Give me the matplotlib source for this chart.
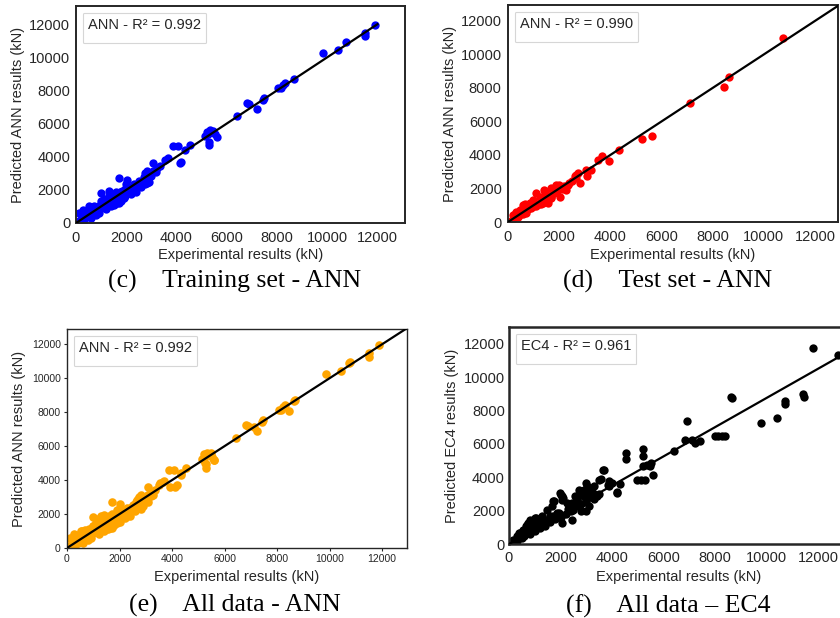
import matplotlib
matplotlib.use("Agg")
import matplotlib.pyplot as plt
from matplotlib.lines import Line2D

plt.rcParams['font.family'] = ['Liberation Sans', 'DejaVu Sans']

# ---- data (kN) ----
train_x = [11900, 11500, 11500, 10750, 10430, 9850, 8690, 8320, 8230, 8160, 8060,
           7470, 7440, 7220, 6890, 6820, 6420,
           5210, 5340, 5470, 5150, 5280, 5300, 5600, 5540, 5250, 5400,
           3870, 4070, 4530, 4200, 4130, 4330, 3540, 3670, 3080, 3350, 3220,
           2760, 2820, 2890, 3080, 2820, 2760, 1710, 2030, 980, 1310, 1970, 1640,
           520, 260, 130,
           100, 150, 200, 250, 300, 350, 400, 450, 500, 550, 600, 650, 700, 750,
           800, 850, 900, 950, 1000, 1050, 1100, 1150, 1200, 1250, 1300, 1350,
           1400, 1450, 1500, 1550, 1600, 1650, 1700, 1750, 1800, 1850, 1900, 1950,
           2000, 2100, 2200, 2300, 2400, 2500, 2600, 2700, 2800, 2900, 3000, 3100,
           3200, 1200, 1500, 1700, 1800, 2200, 2400, 900, 600, 1000, 500, 300,
           1300, 2600, 2750, 2900, 700, 1100, 1600, 2000, 1400, 800, 2300, 1900]
train_y = [11950, 11480, 11280, 10900, 10450, 10250, 8720, 8430, 8330, 8130, 8130,
           7530, 7430, 6890, 7170, 7270, 6460,
           5520, 5620, 5580, 5260, 4920, 4720, 5180, 5380, 5400, 5500,
           4620, 4620, 4700, 3710, 3610, 4420, 3810, 3910, 3610, 3420, 3310,
           3010, 3110, 2910, 3110, 2410, 2510, 2710, 2610, 1810, 1910, 1610, 1200,
           1000, 800, 600,
           120, 80, 260, 310, 200, 450, 350, 560, 420, 650, 480, 760, 600, 860,
           700, 960, 800, 1060, 880, 1160, 960, 1260, 1040, 1350, 1150, 1460,
           1250, 1560, 1340, 1660, 1440, 1760, 1540, 1850, 1620, 1950, 1760, 2060,
           1850, 2200, 2000, 2350, 2200, 2550, 2400, 2800, 2600, 3000, 2850, 3150,
           3050, 850, 1100, 1200, 1350, 1750, 1900, 600, 300, 1300, 800, 600,
           1600, 2200, 2350, 2500, 1000, 1450, 1900, 2350, 1000, 500, 2050, 1500]

test_x = [10760, 8650, 8440, 7110, 5610, 5250, 4350, 3940, 3690, 3520, 3260, 3070,
          3030, 2830, 2740, 2610, 2280, 2020, 1890, 2020, 1440, 1700, 1570, 1760,
          1240, 1110, 980, 850, 720, 460, 330, 200, 590, 1370, 1570, 330, 680,
          2650, 2340, 2000, 1420, 1680,
          100, 200, 400, 500, 600, 800, 900, 1000, 1200, 1300, 1500, 1600, 1800,
          1900, 700, 1100, 1400, 1300, 1700, 2100, 2400, 2500, 2650, 2200]
test_y = [10980, 8680, 8080, 7120, 5160, 4980, 4320, 3620, 3940, 3700, 3120, 2720,
          3080, 2320, 2920, 2720, 1880, 2120, 2220, 1520, 1820, 2020, 1320, 1720,
          1520, 1720, 1320, 1120, 920, 720, 520, 420, 1020, 1120, 1120, 620, 1080,
          2800, 2220, 2220, 1920, 1420,
          50, 150, 300, 450, 500, 750, 850, 950, 1100, 1300, 1450, 1550, 1750,
          1850, 550, 950, 1250, 1050, 1500, 1950, 2350, 2450, 2600, 2150]

ec4_x = [11820, 12790, 8610, 8650, 9790, 10400, 10720, 10720, 11430, 11450, 6900,
         6830, 7090, 7420, 7220, 8000, 8130, 8260, 8390, 6410, 5600, 5500, 5470,
         5190, 5190, 5110, 5280, 4960, 5220, 5350, 4540, 4540, 4310, 4180, 3900,
         3990, 3860, 3660, 3560, 3270, 3300, 2980, 3020, 3080, 2980, 2730, 2760,
         2630, 2560, 2500, 2440, 2240, 1980, 2050, 2110, 1720, 1850, 1980, 2050,
         1460, 1590, 1390, 1010, 820, 750, 690, 560, 430, 300, 170,
         3690, 3500, 3880, 4210, 2910, 2650, 2460, 2970, 3110, 2780, 2390, 2000,
         2070, 1750, 1680, 1940, 1540, 1300, 1040, 900, 650, 390,
         300, 500, 600, 800, 1000, 1200, 1400, 1600, 1800, 2000, 2200, 900, 1100,
         1300, 1500, 1700, 1900, 2300, 2800, 3000, 3200, 3400, 3500, 2900, 3100,
         3300, 100, 200, 400, 700, 1200, 1000, 2600, 2400]
ec4_y = [11760, 11300, 8800, 8760, 7260, 7520, 8560, 8400, 8960, 8820, 7360,
         6220, 6220, 6160, 6060, 6460, 6460, 6460, 6460, 5560, 4120, 4860, 4700,
         5700, 5260, 3860, 3860, 3860, 4660, 4760, 5460, 5100, 3620, 3100, 3800,
         3660, 3560, 4460, 3900, 3060, 2700, 3660, 3460, 3160, 1960, 3260, 2960,
         2660, 2860, 2060, 1460, 2460, 3060, 2860, 2760, 2560, 1860, 1560, 1260,
         2060, 1660, 1460, 1560, 1460, 1260, 1160, 860, 660, 460, 260,
         4460, 3860, 3460, 3060, 3260, 2660, 2460, 2660, 2260, 1960, 1960, 2960,
         2660, 2560, 2260, 1860, 1460, 1660, 1560, 1260, 1060, 660,
         200, 350, 450, 600, 800, 950, 1100, 1300, 1500, 1600, 1800, 850, 1000,
         1200, 1400, 1700, 1800, 2100, 2400, 2500, 2800, 2900, 3000, 2900, 3300,
         3500, 100, 150, 380, 700, 1400, 1200, 2300, 2200]

all_x = train_x + test_x
all_y = train_y + test_y

ticks = [0, 2000, 4000, 6000, 8000, 10000, 12000]
ec4_slope = 0.875

W, H = 840, 618
fig = plt.figure(figsize=(8.4, 6.18), dpi=100)


def make_axes(left, top, right, bottom):
    return fig.add_axes([left / W, 1 - bottom / H, (right - left) / W, (bottom - top) / H])


def style(ax, box, lim, tsize, xpad, ypad, tlen, spine_lw, xlab_y, ylab_x, ylabel,
          leg_text):
    left, top, right, bottom = box
    ax.set_xlim(0, lim[0])
    ax.set_ylim(0, lim[1])
    ax.set_xticks(ticks)
    ax.set_yticks(ticks)
    ax.tick_params(axis='x', labelsize=tsize, length=tlen, pad=xpad, colors='#262626')
    ax.tick_params(axis='y', labelsize=tsize, length=tlen, pad=ypad, colors='#262626')
    for s in ax.spines.values():
        s.set_linewidth(spine_lw)
        s.set_color('#262626')
    ax.set_xlabel('Experimental results (kN)', fontsize=10.5, color='#262626', va='center')
    ax.set_ylabel(ylabel, fontsize=10.5, color='#262626', va='center')
    ax.xaxis.set_label_coords(0.5, (bottom - xlab_y) / (bottom - top))
    ax.yaxis.set_label_coords((ylab_x - left) / (right - left), 0.5)
    # legend: a title line plus one empty entry, like the original boxes
    h = Line2D([], [], linestyle='none')
    leg = ax.legend([h], [''], title=leg_text, loc='upper left', fontsize=3,
                    title_fontsize=10.5, fancybox=True, edgecolor='0.8',
                    borderpad=1.2, borderaxespad=1.7, handlelength=1)
    leg.get_frame().set_linewidth(0.8)
    leg.get_title().set_color('#262626')


# (c) training set
box_c = (76, 6, 405, 223)
ax = make_axes(*box_c)
ax.scatter(train_x, train_y, s=36, color='blue', zorder=2, linewidths=0)
ax.plot([0, 12000], [0, 12000], color='black', lw=1.6, zorder=3)
style(ax, box_c, (13100, 13100), 10.5, 5.5, 4.2, 0, 1.4, 255, 18,
      'Predicted ANN results (kN)', 'ANN - R² = 0.992')

# (d) test set
box_d = (508, 5, 838, 222)
ax = make_axes(*box_d)
ax.scatter(test_x, test_y, s=36, color='red', zorder=2, linewidths=0)
ax.plot([0, 14000], [0, 14000], color='black', lw=1.6, zorder=3)
style(ax, box_d, (12900, 12950), 10.5, 5.5, 4.5, 0, 1.4, 255, 450,
      'Predicted ANN results (kN)', 'ANN - R² = 0.990')

# (e) all data ANN
box_e = (67, 329, 407, 548)
ax = make_axes(*box_e)
ax.scatter(all_x, all_y, s=38, color='orange', zorder=2, linewidths=0)
ax.plot([0, 14000], [0, 14000], color='black', lw=1.6, zorder=3)
style(ax, box_e, (12950, 12900), 7.5, 2.0, 2.0, 2.5, 1.0, 577, 19,
      'Predicted ANN results (kN)', 'ANN - R² = 0.992')

# (f) all data EC4
box_f = (509, 327, 849, 544)
ax = make_axes(*box_f)
ax.scatter(ec4_x, ec4_y, s=36, color='black', zorder=2, linewidths=0)
ax.plot([0, 14000], [0, 14000 * ec4_slope], color='black', lw=1.6, zorder=3)
style(ax, box_f, (13200, 13000), 10.5, 5.0, 3.0, 0, 1.8, 577, 452,
      'Predicted EC4 results (kN)', 'EC4 - R² = 0.961')

# captions
cap = dict(ha='center', va='center', family=['Liberation Serif', 'DejaVu Serif'],
           fontsize=18.5, color='black')
fig.text(234.5 / W, 1 - 281 / H, '(c)    Training set - ANN', **cap)
fig.text(668 / W, 1 - 281 / H, '(d)    Test set - ANN', **cap)
fig.text(235 / W, 1 - 605 / H, '(e)    All data - ANN', **cap)
fig.text(668 / W, 1 - 606 / H, '(f)    All data \u2013 EC4', **cap)

fig.savefig('out.png', dpi=100)
